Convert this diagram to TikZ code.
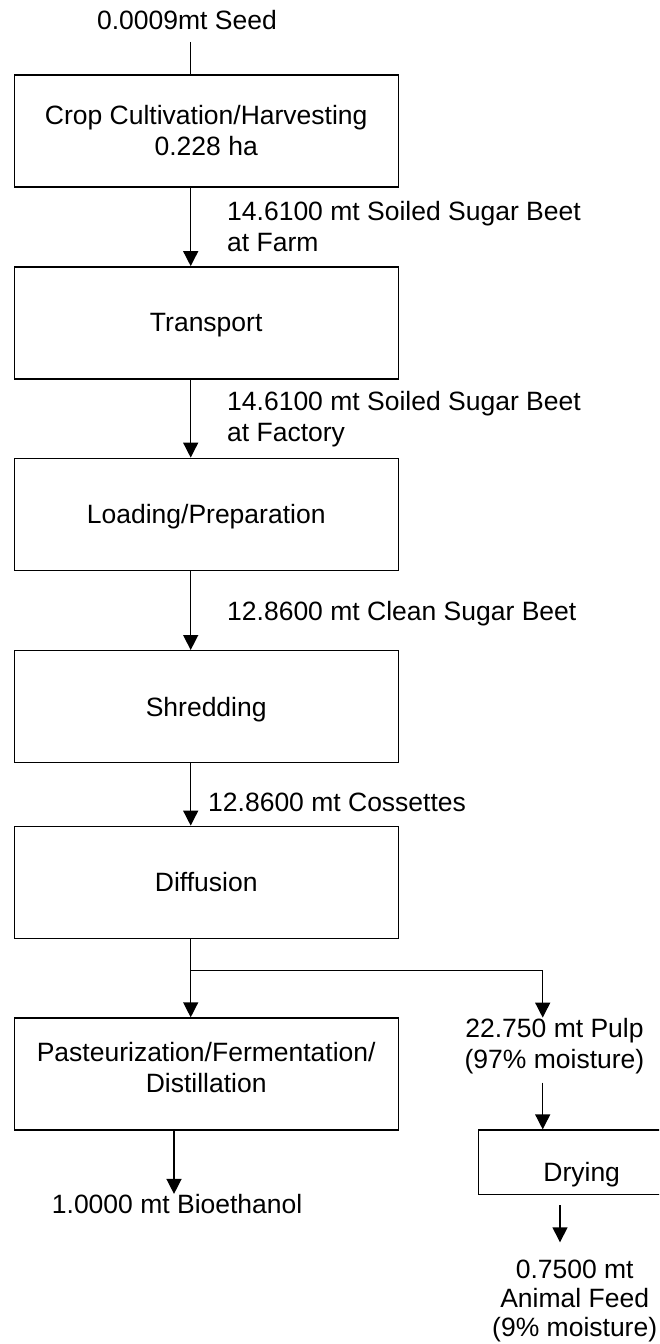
\documentclass[tikz,border=0pt]{standalone}
\usepackage{fontspec}
\setmainfont{Liberation Sans}
\usetikzlibrary{arrows.meta}
\tikzset{
  proc/.style={draw, line width=1.4pt, minimum width=384pt, minimum height=112pt,
    inner sep=0pt, align=center, text depth=0pt},
  flow/.style={line width=1.4pt, -{Triangle[width=15pt,length=15pt]}},
  lbl/.style={inner sep=0pt, align=left},
  amount/.style={inner sep=0pt, align=center},
}
\begin{document}
\begin{tikzpicture}[x=1pt, y=-1pt, font=\fontsize{26.5}{31}\selectfont]
    \clip (0,0) rectangle (659,1344);

    % Columns of the arrows
    \coordinate (ax) at (190.7,0);
    \coordinate (bx) at (174,0);
    \coordinate (px) at (542.7,0);
    \coordinate (fx) at (560,0);

    % Draw the process boxes
    \node[proc] (crop) at (206.2,130.8) {Crop Cultivation/Harvesting\\0.228 ha};
    \node[proc] (transport) at (206.2,322.8) {Transport};
    \node[proc] (loading) at (206.2,514.3) {Loading/Preparation};
    \node[proc] (shredding) at (206.2,706.7) {Shredding};
    \node[proc] (diffusion) at (206.2,882.3) {Diffusion};
    \node[proc, text depth=14pt] (distillation) at (206.2,1074) {Pasteurization/Fermentation/\\Distillation};
    \node[proc, minimum width=207pt, minimum height=64.3pt, text height=39pt] (drying)
        at (581.7,1162.2) {Drying};

    % Add labels
    \node[amount, anchor=base] (seed) at (187,29.3) {0.0009mt Seed};
    \node[lbl, anchor=base west] (farm) at (227,251.7) {14.6100 mt Soiled Sugar Beet\\at Farm};
    \node[lbl, anchor=base west] (factory) at (227,441) {14.6100 mt Soiled Sugar Beet\\at Factory};
    \node[lbl, anchor=base west] (clean) at (227,620) {12.8600 mt Clean Sugar Beet};
    \node[lbl, anchor=base west] (cossettes) at (208,811.7) {12.8600 mt Cossettes};
    \node[amount, anchor=base] (pulp) at (554.5,1068) {22.750 mt Pulp\\(97\% moisture)};
    \node[lbl, anchor=base west] (ethanol) at (51.7,1213.3) {1.0000 mt Bioethanol};
    \node[amount, anchor=base, font=\fontsize{26.5}{29}\selectfont] (feed) at (574.7,1336)
        {0.7500 mt\\Animal Feed\\(9\% moisture)};

    % Draw the main line
    \draw[line width=1.4pt, shorten <=12pt] (seed.south -| ax) -- (crop.north -| ax);
    \draw[flow] (crop.south -| ax) -- (transport.north -| ax);
    \draw[flow] (transport.south -| ax) -- (loading.north -| ax);
    \draw[flow] (loading.south -| ax) -- (shredding.north -| ax);
    \draw[flow] (shredding.south -| ax) -- (diffusion.north -| ax);
    \draw[flow] (diffusion.south -| ax) -- (distillation.north -| ax);
    \draw[flow] (distillation.south -| bx) -- (ethanol.north -| bx);

    % Draw the pulp branch
    \coordinate (fork) at (190.7,970.7);
    \draw[flow] (fork) -| (pulp.north -| px);
    \draw[flow, shorten <=9pt] (pulp.south -| px) -- (drying.north -| px);
    \draw[flow, shorten <=10pt, shorten >=17pt] (drying.south -| fx) -- (feed.north -| fx);
\end{tikzpicture}
\end{document}
